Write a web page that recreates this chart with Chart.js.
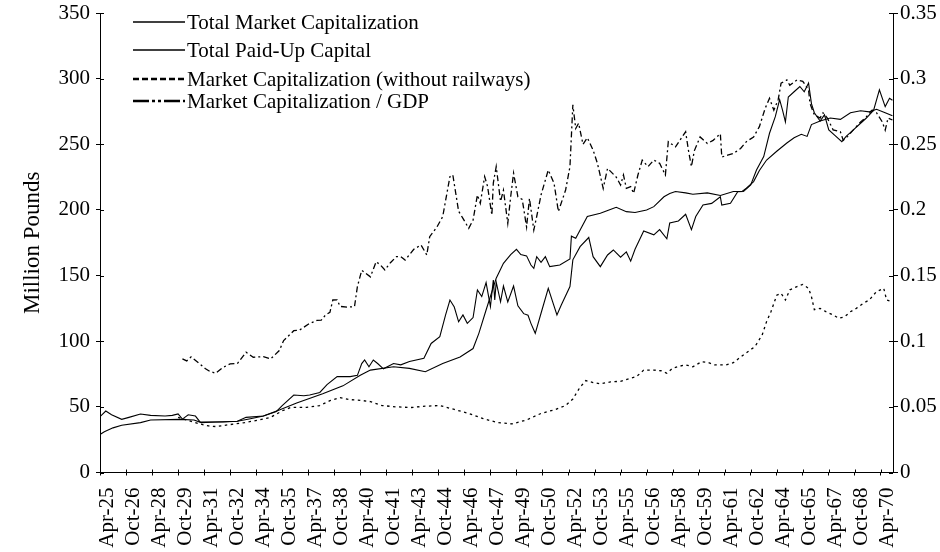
<!DOCTYPE html>
<html><head><meta charset="utf-8">
<script src="https://cdn.jsdelivr.net/npm/chart.js@4.4.1/dist/chart.umd.min.js"></script>
<style>html,body{margin:0;padding:0;background:#fff}</style>
</head><body>
<canvas id="c" width="940" height="552"></canvas>
<script>
// x values are months counted from April 1925
const tickLabels = ["Apr-25","Oct-26","Apr-28","Oct-29","Apr-31","Oct-32","Apr-34","Oct-35","Apr-37","Oct-38","Apr-40","Oct-41","Apr-43","Oct-44","Apr-46","Oct-47","Apr-49","Oct-50","Apr-52","Oct-53","Apr-55","Oct-56","Apr-58","Oct-59","Apr-61","Oct-62","Apr-64","Oct-65","Apr-67","Oct-68","Apr-70"];
const seriesNames = ["Total Market Capitalization","Total Paid-Up Capital","Market Capitalization (without railways)","Market Capitalization / GDP"];

// Million pounds
const marketCap = [[0,42.5],[4,46.8],[8,44],[15,40.5],[20,42],[28,44.6],[35,43.5],[45,43],[50,43.5],[54,44.6],[57,40.7],[61,44],[66,43],[69,38.7],[75,38.5],[85,38.5],[95,39],[101,42],[113,43],[122,46.5],[126,51],[134,59],[141,58.5],[145,59],[152,61],[157,67],[164,73],[173,73],[178,74],[181,83],[183,85.7],[186,80.6],[189,85.7],[192,83],[196,79],[203,83],[208,82],[214,84.6],[224,87],[229,98.3],[235,103.5],[239,120],[242,131.4],[245,126],[248,114.8],[251,120],[254,113.6],[258,118],[261,139],[264,134],[267,144.6],[270,126.4],[272,146.6],[273,131.4],[274,145],[277,130],[279,142],[282,130],[286,142],[289,127],[293,121],[296,119.8],[298,113.6],[301,106],[305,121.3],[310,140.3],[316,120],[319,127.6],[325,141.6],[327,162],[332,172],[338,179],[341,164.4],[346,156.8],[351,165.7],[355,169.5],[360,164],[364,168],[367,161],[370,170],[376,184],[383,181],[387,185],[392,178],[394,190],[400,191.6],[405,196.7],[409,185],[412,195],[417,203.7],[423,205],[429,210],[430,203.7],[436,205],[441,213.9],[445,214],[450,219],[454,230.4],[459,240.6],[463,258.4],[467,271],[470,284],[472,276],[474,267],[476,286],[480,290],[484,294],[487,290],[490,296.6],[492,281],[494,274],[498,267.7],[501,272.4],[504,261],[508,257],[513,252],[516,256],[521,261],[526,266],[530,270],[535,276],[539,291.5],[543,278.7],[546,285],[548,283.5]];
const paidUpCapital = [[0,29],[3,31],[9,34],[15,36],[28,38],[35,40],[55,40.5],[65,40],[70,38],[80,38.5],[95,39],[104,41],[113,43],[124,47.6],[136,53],[154,60],[168,66],[180,74],[187,78],[203,80.6],[214,79.3],[225,76.8],[237,83],[249,88],[258,94.4],[262,106],[267,123.8],[274,148],[279,159.3],[284,166],[288,170],[291,166],[295,165],[298,158],[300,155.5],[302,164.4],[305,160],[308,164.4],[311,156.8],[318,158],[325,162.6],[326,180],[329,178.4],[337,195],[346,197.4],[352,200],[357,202],[364,198.7],[370,198],[378,200],[383,202.5],[390,210],[394,212.5],[398,214],[405,213],[410,212],[420,213],[429,211],[438,214],[444,214],[447,216.5],[452,221.6],[456,230],[461,238],[468,244.7],[475,251],[480,255],[485,257.6],[489,256],[492,265],[498,267.7],[505,270],[512,269],[519,274],[526,275.5],[532,274.7],[537,276.7],[543,274],[548,271.7]];
const marketCapNoRail = [[54,42],[60,40],[69,37],[75,35.5],[80,35],[90,36.5],[100,38],[110,40],[118,42],[126,47],[132,49.6],[143,49.6],[152,51],[159,54.7],[166,57],[173,55.5],[180,55],[187,54],[195,51],[205,50],[215,49.5],[225,50.5],[235,51],[245,48],[255,45],[265,41],[275,38],[285,37],[295,40],[305,45],[315,48],[322,51],[327,56],[332,65],[336,70],[341,68.5],[346,67.5],[353,69],[360,69.5],[366,71.5],[371,73],[376,78],[383,78],[388,77.5],[392,75.6],[396,79.4],[401,81],[405,82],[410,80.5],[416,84.4],[420,84],[425,82],[433,82],[438,83.6],[443,88],[448,92],[453,96],[458,105],[461,115],[464,122.5],[468,135],[471,136.5],[474,131.4],[477,139],[482,141.6],[486,143.3],[490,140.3],[492,134],[494,124],[498,125],[502,122.5],[507,120],[511,117.4],[515,118.7],[519,122.5],[523,125],[528,129],[532,131.4],[537,137.8],[542,140.3],[544,131.4],[548,130]];
// ratio (right axis)
const capToGdp = [[57,0.0865],[60,0.085],[63,0.088],[69,0.0827],[73,0.079],[76,0.077],[80,0.0756],[85,0.080],[90,0.0827],[95,0.083],[101,0.0916],[106,0.0878],[113,0.0883],[118,0.0865],[124,0.0929],[127,0.1005],[134,0.108],[138,0.1085],[141,0.1107],[145,0.1136],[150,0.1158],[153,0.116],[156,0.120],[159,0.122],[161,0.1314],[164,0.1315],[166,0.1265],[171,0.126],[176,0.1263],[178,0.1416],[181,0.154],[187,0.149],[191,0.1606],[194,0.158],[197,0.1543],[201,0.160],[205,0.1644],[208,0.1644],[211,0.1618],[217,0.170],[222,0.1733],[226,0.1657],[228,0.1796],[233,0.187],[237,0.1949],[242,0.2254],[244,0.2267],[248,0.199],[251,0.1936],[255,0.186],[258,0.1923],[261,0.2114],[263,0.205],[266,0.2254],[268,0.218],[271,0.196],[272,0.2205],[274,0.233],[277,0.2065],[279,0.215],[282,0.1898],[284,0.210],[286,0.228],[289,0.210],[292,0.208],[295,0.187],[297,0.2088],[300,0.1847],[302,0.195],[305,0.2114],[310,0.2304],[314,0.2203],[317,0.1988],[322,0.2152],[325,0.233],[327,0.280],[329,0.262],[331,0.266],[334,0.250],[337,0.255],[341,0.2456],[344,0.2355],[348,0.2164],[351,0.2317],[357,0.225],[360,0.219],[362,0.2266],[364,0.2165],[367,0.2177],[369,0.2126],[372,0.2266],[375,0.2379],[379,0.233],[383,0.238],[387,0.2355],[391,0.2266],[393,0.252],[398,0.248],[401,0.253],[405,0.2595],[407,0.245],[409,0.233],[411,0.245],[415,0.2556],[420,0.2506],[424,0.253],[429,0.258],[430,0.2403],[434,0.2417],[438,0.243],[443,0.2468],[447,0.252],[452,0.2556],[456,0.2634],[460,0.2774],[463,0.285],[466,0.276],[469,0.284],[471,0.2966],[475,0.299],[477,0.295],[482,0.299],[486,0.298],[490,0.2915],[491,0.281],[494,0.2724],[498,0.270],[500,0.274],[503,0.270],[507,0.261],[512,0.2596],[514,0.253],[517,0.256],[521,0.261],[526,0.267],[530,0.271],[534,0.276],[537,0.274],[541,0.267],[543,0.2608],[545,0.270],[548,0.2685]];

const FONT = "'Liberation Serif','Times New Roman',serif";
const toXY = arr => arr.map(p => ({x: p[0], y: p[1]}));

const legendStyles = [
  {dash: [], width: 1.3},
  {dash: [], width: 1.3},
  {dash: [6, 3], width: 2.6},
  {dash: [16, 3, 3, 3, 3, 3], width: 2.6}
];
const legendRowsY = [22, 50, 79, 101];

const customLegend = {
  id: 'customLegend',
  afterDraw(chart) {
    const ctx = chart.ctx;
    ctx.save();
    chart.data.datasets.forEach((ds, i) => {
      const y = legendRowsY[i];
      const st = legendStyles[i];
      ctx.strokeStyle = '#000';
      ctx.lineWidth = st.width;
      ctx.setLineDash(st.dash);
      ctx.beginPath();
      ctx.moveTo(133, y);
      ctx.lineTo(185, y);
      ctx.stroke();
      ctx.setLineDash([]);
      ctx.fillStyle = '#000';
      ctx.font = "21px " + FONT;
      ctx.textBaseline = 'alphabetic';
      ctx.textAlign = 'left';
      ctx.fillText(ds.label, 187, y + 7);
    });
    ctx.restore();
  }
};

const innerTicks = {
  id: 'innerTicks',
  afterDraw(chart) {
    const {ctx, chartArea: a, scales} = chart;
    ctx.save();
    ctx.strokeStyle = '#000';
    ctx.lineWidth = 1;
    ctx.setLineDash([]);
    ctx.beginPath();
    scales.x.ticks.forEach(t => {
      const p = Math.round(scales.x.getPixelForValue(t.value)) + 0.5;
      ctx.moveTo(p, a.bottom); ctx.lineTo(p, a.bottom - 3);
    });
    scales.y.ticks.forEach(t => {
      const p = Math.round(scales.y.getPixelForValue(t.value)) + 0.5;
      ctx.moveTo(a.left, p); ctx.lineTo(a.left + 4, p);
    });
    scales.y1.ticks.forEach(t => {
      const p = Math.round(scales.y1.getPixelForValue(t.value)) + 0.5;
      ctx.moveTo(a.right, p); ctx.lineTo(a.right - 4, p);
    });
    ctx.stroke();
    ctx.restore();
  }
};

const zeroPad = s => { s.paddingTop = 0; s.paddingBottom = 0; s.paddingLeft = 0; s.paddingRight = 0; };
const gridOpts = (len) => ({display: true, drawOnChartArea: false, drawTicks: true, tickLength: len, color: '#000', lineWidth: 1});

new Chart(document.getElementById('c'), {
  type: 'line',
  data: {
    datasets: [
      {label: seriesNames[0], data: toXY(marketCap), yAxisID: 'y', borderColor: '#000', borderWidth: 1.1, pointRadius: 0, tension: 0, fill: false},
      {label: seriesNames[1], data: toXY(paidUpCapital), yAxisID: 'y', borderColor: '#000', borderWidth: 1.1, pointRadius: 0, tension: 0, fill: false},
      {label: seriesNames[2], data: toXY(marketCapNoRail), yAxisID: 'y', borderColor: '#000', borderWidth: 1.3, borderDash: [2.5, 3.5], pointRadius: 0, tension: 0, fill: false},
      {label: seriesNames[3], data: toXY(capToGdp), yAxisID: 'y1', borderColor: '#000', borderWidth: 1.3, borderDash: [6, 3, 2, 3], pointRadius: 0, tension: 0, fill: false}
    ]
  },
  options: {
    responsive: false,
    animation: false,
    devicePixelRatio: 1,
    layout: {padding: {top: 13, left: 0, right: 0, bottom: 0}},
    plugins: {legend: {display: false}, tooltip: {enabled: false}},
    scales: {
      x: {
        type: 'linear', position: 'bottom', min: 0, max: 548.4,
        grid: gridOpts(3),
        border: {display: true, color: '#000', width: 1},
        ticks: {
          stepSize: 18, autoSkip: false, includeBounds: false,
          maxRotation: 90, minRotation: 90, padding: 12, labelOffset: 7,
          color: '#000', font: {family: FONT, size: 21},
          callback: v => tickLabels[Math.round(v / 18)] ?? ''
        },
        afterFit: s => { s.height = 79.5; zeroPad(s); }
      },
      y: {
        position: 'left', min: 0, max: 350,
        grid: gridOpts(4),
        border: {display: true, color: '#000', width: 1},
        ticks: {stepSize: 50, padding: 6, color: '#000', font: {family: FONT, size: 21}},
        title: {display: true, text: 'Million Pounds', color: '#000', font: {family: FONT, size: 23}, padding: {top: 19, bottom: 0}},
        afterFit: s => { s.width = 100; zeroPad(s); }
      },
      y1: {
        position: 'right', min: 0, max: 0.35,
        grid: gridOpts(5),
        border: {display: true, color: '#000', width: 1},
        ticks: {stepSize: 0.05, padding: 2, color: '#000', font: {family: FONT, size: 21},
          callback: v => String(Math.round(v * 100) / 100)},
        afterFit: s => { s.width = 47; zeroPad(s); }
      }
    }
  },
  plugins: [customLegend, innerTicks]
});
</script>
</body></html>
